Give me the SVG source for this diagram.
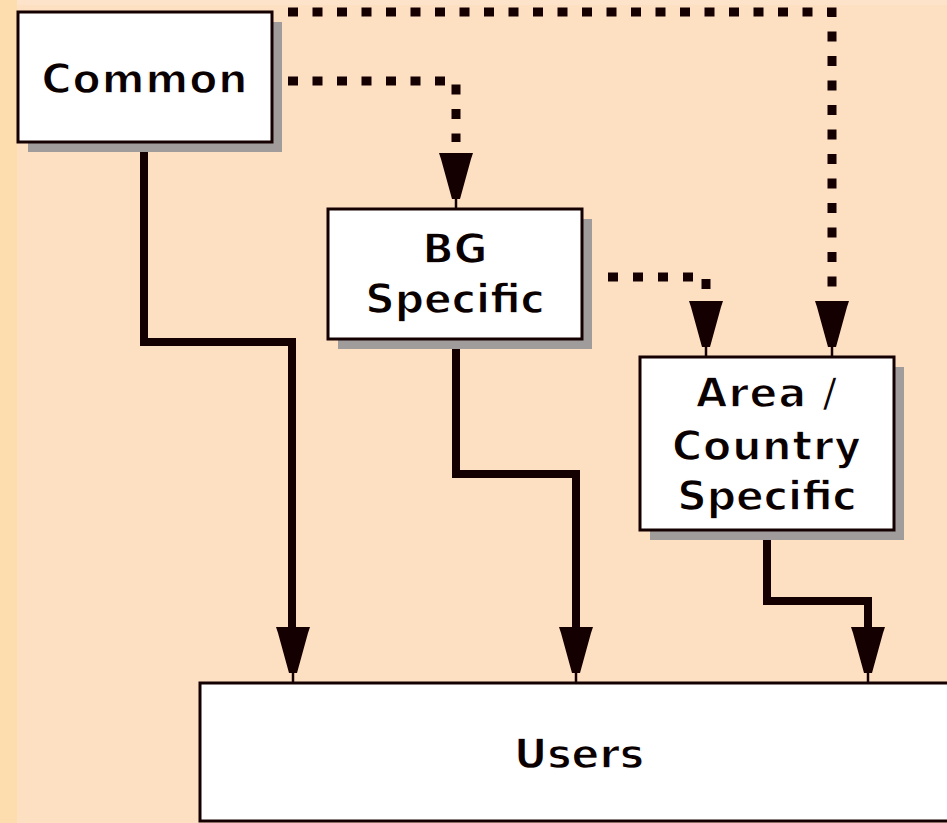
<svg xmlns="http://www.w3.org/2000/svg" width="947" height="823" viewBox="0 0 947 823">
  <style>
    .box { fill: #ffffff; stroke: #140000; stroke-width: 3; }
    .shadow { fill: #a19c9c; }
    .label { font-family: "DejaVu Sans", Verdana, sans-serif; font-weight: bold; font-size: 41px; fill: #0a0000; text-anchor: middle; stroke: #ffffff; stroke-width: 1.4; }
    .dotted { fill: none; stroke: #140000; stroke-width: 9; stroke-dasharray: 10 14.5; }
    .dotted.short { stroke-dasharray: 10 15; }
    .solid { fill: none; stroke: #140000; stroke-width: 8; stroke-linejoin: miter; }
  </style>
  <defs>
    <!-- tapered arrowhead; origin at top centre, tip stem reaches y=56 -->
    <g id="head">
      <polygon points="-17,0 17,0 15,6 4,46 -4,46 -15,6" fill="#140000"/>
      <line x1="0" y1="44" x2="0" y2="56" stroke="#140000" stroke-width="2.5"/>
    </g>
  </defs>

  <!-- background -->
  <rect x="0" y="0" width="947" height="823" fill="#fddfc2"/>
  <rect x="0" y="0" width="17" height="823" fill="#fddcae"/>
  <rect x="17" y="0" width="930" height="5" fill="#fde3ca"/>

  <!-- connectors -->
  <g id="connectors">
    <path class="dotted" d="M 288 12 H 832 V 290"/>
    <path class="dotted" d="M 288 81 H 456 V 142"/>
    <path class="dotted short" d="M 608 277 H 706 V 292"/>
    <path class="solid" d="M 144 152 V 342 H 292 V 630"/>
    <path class="solid" d="M 456 348 V 474 H 576 V 630"/>
    <path class="solid" d="M 767 540 V 601 H 868 V 630"/>
    <use href="#head" x="456" y="153"/>
    <use href="#head" x="706" y="301"/>
    <use href="#head" x="832" y="301"/>
    <use href="#head" x="293" y="627"/>
    <use href="#head" x="576" y="627"/>
    <use href="#head" x="868" y="627"/>
  </g>

  <g id="common">
    <rect class="shadow" x="28" y="22" width="254" height="130"/>
    <rect class="box" x="18" y="12" width="254" height="130"/>
    <text class="label" x="145" y="93" letter-spacing="1">Common</text>
  </g>

  <g id="bg-specific">
    <rect class="shadow" x="338" y="219" width="254" height="130"/>
    <rect class="box" x="328" y="209" width="254" height="130"/>
    <text class="label" x="455" y="263">BG</text>
    <text class="label" x="455" y="313">Specific</text>
  </g>

  <g id="area-country-specific">
    <rect class="shadow" x="650" y="367" width="254" height="173"/>
    <rect class="box" x="640" y="357" width="254" height="173"/>
    <text class="label" x="767" y="407" letter-spacing="1">Area /</text>
    <text class="label" x="767" y="460" letter-spacing="1">Country</text>
    <text class="label" x="767" y="510">Specific</text>
  </g>

  <g id="users">
    <rect class="box" x="200" y="683" width="790" height="138"/>
    <text class="label" x="579" y="768">Users</text>
  </g>
</svg>
